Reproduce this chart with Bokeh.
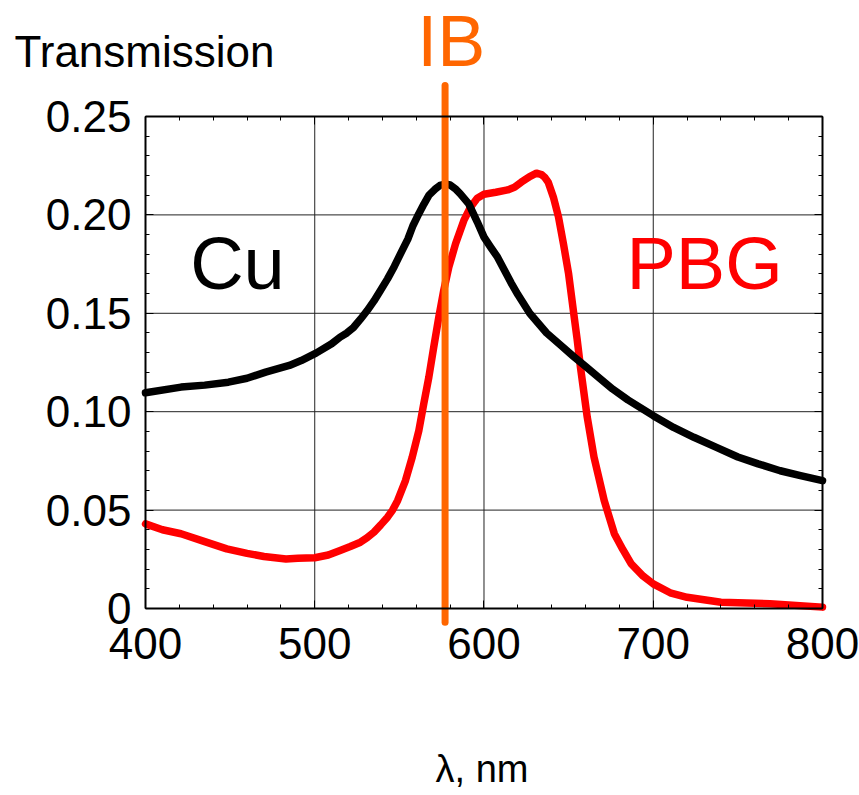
from bokeh.plotting import figure
from bokeh.models import Range1d, FixedTicker, LinearAxis, Label, NumeralTickFormatter
from bokeh.embed import file_html
from bokeh.resources import INLINE

# ---- data ----
cu_nm = [400, 421, 435, 449, 460, 471, 485, 492, 501, 510, 515, 519, 523, 527, 531,
         535, 539, 543, 547, 551, 555, 558, 561.5, 564.5, 567.5, 571, 574, 577, 580,
         583, 586, 591, 596, 600, 604, 608, 612, 616, 620, 627, 637, 645, 653, 660,
         667, 676, 685, 700, 712, 724, 737, 750, 762, 775, 787, 800]
cu_T = [0.1096, 0.1125, 0.1135, 0.115, 0.117, 0.1201, 0.1235, 0.126, 0.1299, 0.1345,
        0.1379, 0.1400, 0.1429, 0.1470, 0.1514, 0.1563, 0.1618, 0.1675, 0.1738, 0.1808,
        0.1877, 0.1945, 0.2006, 0.2055, 0.2100, 0.2130, 0.2150, 0.2157, 0.2152, 0.2133,
        0.2107, 0.2056, 0.1965, 0.1887, 0.1835, 0.1785, 0.1720, 0.1655, 0.1595, 0.1500,
        0.1400, 0.1340, 0.1280, 0.1230, 0.1180, 0.1115, 0.1060, 0.0980, 0.0920, 0.0870,
        0.0820, 0.0770, 0.0735, 0.0700, 0.0675, 0.0650]

pbg_nm = [400, 410, 421, 435, 448, 460, 470, 483, 490, 500, 508, 515, 521, 527, 531,
          535, 539, 543, 546, 549, 553.6, 557.6, 561.5, 564.4, 567.4, 570.3, 573.3,
          576.2, 579.2, 583.2, 588.1, 592, 596, 600, 607, 614, 618, 622, 627, 631, 634,
          636, 638, 641, 644, 647, 650, 653, 655, 657, 661, 665, 671, 677, 682, 687,
          694, 700, 710, 720, 740, 769, 800]
pbg_T = [0.043, 0.040, 0.038, 0.034, 0.0303, 0.028, 0.0264, 0.0252, 0.0255, 0.0258,
         0.0272, 0.0295, 0.0315, 0.0337, 0.0360, 0.0388, 0.0425, 0.0464, 0.0500, 0.0549,
         0.0650, 0.0769, 0.0904, 0.1040, 0.1175, 0.1328, 0.1480, 0.1616, 0.1734, 0.1853,
         0.1972, 0.2039, 0.2085, 0.2105, 0.2115, 0.2127, 0.2140, 0.2166, 0.2195, 0.2212,
         0.2205, 0.2190, 0.2165, 0.2090, 0.1990, 0.1850, 0.1700, 0.1500, 0.1370, 0.1226,
         0.0972, 0.0769, 0.0549, 0.0380, 0.0300, 0.0227, 0.0165, 0.0125, 0.0080, 0.0057,
         0.0032, 0.0024, 0.0007]

ib_nm = 577

x_ticks = [400, 500, 600, 700, 800]
x_minor = list(range(400, 801, 20))
y_ticks = [0, 0.05, 0.10, 0.15, 0.20, 0.25]
y_minor = [i / 100 for i in range(0, 26)]

FONT = "Liberation Sans"
X0, X1 = x_ticks[0], x_ticks[-1]
Y0, Y1 = y_ticks[0], y_ticks[-1]

# frame covers the whole canvas; the plot box is drawn with fixed-location axes
p = figure(width=859, height=795,
           min_border_left=0, min_border_right=0,
           min_border_top=0, min_border_bottom=0,
           x_range=Range1d(314.33, 821.86), y_range=Range1d(-0.09502, 0.30894),
           output_backend="svg", toolbar_location=None,
           x_axis_location=None, y_axis_location=None)

p.background_fill_color = "white"
p.border_fill_color = "white"
p.outline_line_color = None
p.grid.visible = False

# grid lines inside the box
p.segment(x0=x_ticks[1:-1], y0=[Y0] * 3, x1=x_ticks[1:-1], y1=[Y1] * 3,
          line_color="#222222", line_width=1, level="underlay")
p.segment(x0=[X0] * 4, y0=y_ticks[1:-1], x1=[X1] * 4, y1=y_ticks[1:-1],
          line_color="#222222", line_width=1, level="underlay")


def make_axis(ticks, minor, bounds, loc, show_labels):
    ax = LinearAxis(ticker=FixedTicker(ticks=ticks, minor_ticks=minor),
                    bounds=bounds, fixed_location=loc)
    ax.axis_line_color = "black"
    ax.axis_line_width = 2
    ax.major_tick_in = 8
    ax.major_tick_out = 0
    ax.minor_tick_in = 4
    ax.minor_tick_out = 0
    ax.major_tick_line_color = "black"
    ax.minor_tick_line_color = "black"
    ax.major_tick_line_width = 1
    ax.minor_tick_line_width = 1
    if show_labels:
        ax.major_label_text_font = FONT
        ax.major_label_text_font_size = "44px"
        ax.major_label_text_color = "black"
    else:
        ax.major_label_text_font_size = "1px"
        ax.major_label_text_color = None
    return ax


bottom_ax = make_axis(x_ticks, x_minor, (X0, X1), Y0, True)
bottom_ax.major_label_standoff = 20
left_ax = make_axis(y_ticks, y_minor, (Y0, Y1), X0, True)
left_ax.major_label_standoff = 14
left_ax.formatter = NumeralTickFormatter(format="0.00")
left_ax.major_label_overrides = {0: "0"}
top_ax = make_axis(x_ticks, x_minor, (X0, X1), Y1, False)
right_ax = make_axis(y_ticks, y_minor, (Y0, Y1), X1, False)

p.line(pbg_nm, pbg_T, line_color="#FF0000", line_width=7.5, line_cap="round", line_join="round")
p.line(cu_nm, cu_T, line_color="black", line_width=7.5, line_cap="round", line_join="round")

p.segment(x0=[ib_nm], y0=[-0.007], x1=[ib_nm], y1=[0.2658],
          line_color="#FF6600", line_width=7, line_cap="round")

p.add_layout(bottom_ax, "below")
p.add_layout(left_ax, "left")
p.add_layout(top_ax, "above")
p.add_layout(right_ax, "right")

p.add_layout(Label(x=322.6, y=0.2832, text="Transmission", text_font=FONT,
                   text_font_size="44px", text_color="black", text_baseline="alphabetic"))
p.add_layout(Label(x=560.5, y=0.2884, text="IB", text_font=FONT,
                   text_font_size="72px", text_color="#FF6600", text_baseline="alphabetic"))
p.add_layout(Label(x=426.4, y=0.1755, text="Cu", text_font=FONT,
                   text_font_size="74px", text_color="black", text_baseline="alphabetic"))
p.add_layout(Label(x=684.2, y=0.1751, text="PBG", text_font=FONT,
                   text_font_size="74px", text_color="#FF0000", text_baseline="alphabetic"))
p.add_layout(Label(x=598.8, y=-0.0818, text="λ, nm", text_font=FONT,
                   text_font_size="38px", text_color="black", text_align="center",
                   text_baseline="alphabetic"))

open("out.html", "w").write(file_html(p, INLINE))
